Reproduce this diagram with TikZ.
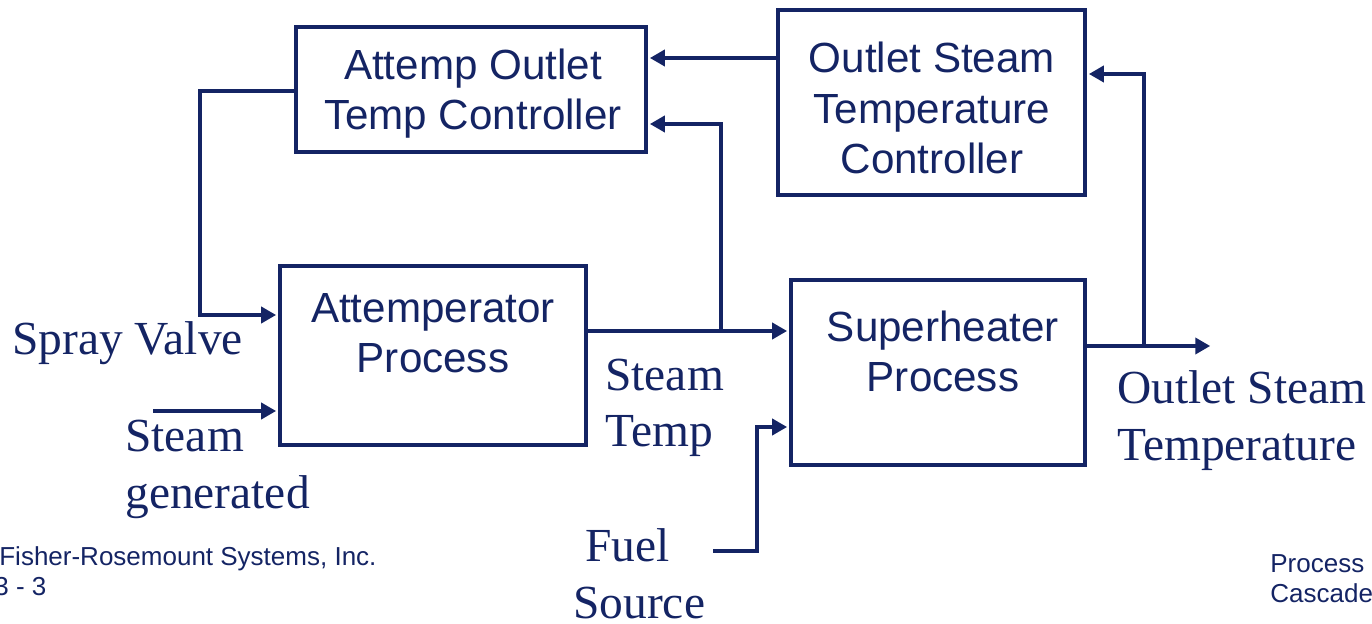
\documentclass[tikz,border=0pt]{standalone}
\usepackage{fontspec}
\setmainfont{Liberation Serif}
\newfontfamily\arialfont{Liberation Sans}
\usetikzlibrary{arrows.meta}
\definecolor{navy}{HTML}{142464}
\begin{document}
\begin{tikzpicture}[x=0.02cm,y=-0.02cm,
  box/.style={draw=navy, line width=0.085cm, inner sep=0pt, line join=miter},
  conn/.style={draw=navy, line width=0.08cm, line join=miter, -{Triangle[length=0.3cm,width=0.32cm]}, shorten >=1pt},
  sanslbl/.style={text=navy, font=\arialfont\fontsize{24pt}{28.5pt}\selectfont, align=center, inner sep=0pt},
  seriflbl/.style={text=navy, font=\fontsize{27pt}{32pt}\selectfont, align=left, inner sep=0pt, anchor=base west},
  smalllbl/.style={text=navy, font=\arialfont\fontsize{14.8pt}{17pt}\selectfont, align=left, inner sep=0pt, anchor=base west}]
\useasboundingbox (0,0) rectangle (1372,624);
% boxes
\node[box, minimum width=7.0cm, minimum height=2.5cm] (aotc) at (471,89.5) {};
\node[box, minimum width=6.14cm, minimum height=3.7cm] (osc) at (931.5,102.5) {};
\node[box, minimum width=6.12cm, minimum height=3.58cm] (ap) at (433,355.5) {};
\node[box, minimum width=5.88cm, minimum height=3.7cm] (sp) at (938,372.5) {};
% box texts
\node[sanslbl] (aotct) at (473,94) {Attemp Outlet\\Temp Controller};
\node[sanslbl] (osct) at (932,108) {Outlet Steam\\Temperature\\Controller};
\node[sanslbl] (apt) at (433,333) {Attemperator\\Process};
\node[sanslbl] (spt) at (943,351) {Superheater\\Process};
% serif labels
\node[seriflbl] (spray) at (12,355) {Spray Valve};
\node[seriflbl] (sgen) at (125,508) {Steam\\generated};
\node[seriflbl] (stemp) at (605,447) {Steam\\Temp};
\node[seriflbl] (fuel) at (573,618) {\hspace*{0.24cm}Fuel\\Source};
\node[seriflbl] (outt) at (1117,460) {Outlet Steam\\Temperature};
% footer
\node[smalllbl] (fisher) at (-1,595) {Fisher-Rosemount Systems, Inc.\\\hspace*{-0.1cm}3 - 3};
\node[smalllbl] (pc) at (1270,602) {Process\\Cascade};
% free ends
\coordinate (sg) at (153,411);
\coordinate (sv) at (200,315);
\coordinate (br1) at (721,331);
\coordinate (fs) at (713,551);
\coordinate (fc) at (757,427);
\coordinate (out) at (1212,346);
\coordinate (br2) at (1144,346);
% connectors
\draw[conn] (osc.west |- 0,58) -- (aotc.east |- 0,58);
\draw[conn] (aotc.west |- 0,91) -| (sv) -- (ap.west |- sv);
\draw[conn] (sg) -- (ap.west |- sg);
\draw[conn] (ap.east |- br1) -- (sp.west |- br1);
\draw[conn] (br1) |- (aotc.east |- 0,124);
\draw[conn] (fs) -| (fc) -- (sp.west |- fc);
\draw[conn] (sp.east |- out) -- (out);
\draw[conn] (br2) |- (osc.east |- 0,74);
\end{tikzpicture}
\end{document}
